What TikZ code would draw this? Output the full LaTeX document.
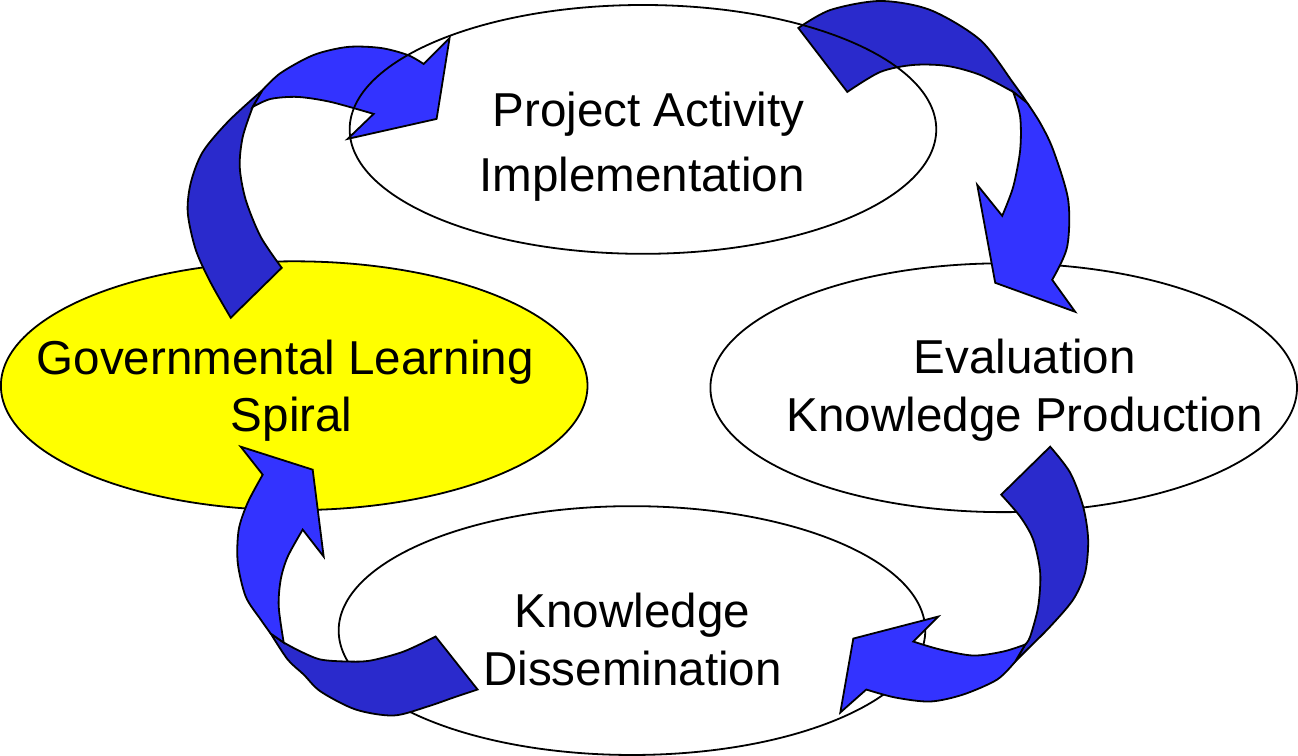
\documentclass[tikz,border=0pt]{standalone}
\usepackage{fontspec}
\setmainfont{Liberation Sans}
\usetikzlibrary{shapes.geometric}
\definecolor{frontblue}{RGB}{51,51,255}
\definecolor{backblue}{RGB}{42,42,204}
\definecolor{spiralyellow}{RGB}{255,255,0}

\begin{document}
\begin{tikzpicture}[x=1pt,y=-1pt,
  stage/.style={ellipse,draw,line width=1.8pt,minimum width=587pt,minimum height=249pt,inner sep=0pt},
  caption/.style={align=center,font=\fontsize{47.6}{57.5}\selectfont},
  backside/.style={draw,fill=backblue,line width=1.8pt},
  frontside/.style={draw,fill=frontblue,line width=1.8pt}]
  \fill[white](0,0)rectangle(1298,756);
  \node[stage,fill=spiralyellow](spiral)at(293.5,386){};
  \node[stage,fill=white](eval)at(1003.5,388){};
  \node[stage,fill=white](diss)at(631.5,631){};
  % spiral -> implementation
  \draw[backside] plot[smooth] coordinates{(230,318)(210,283)(195,250)(187,213)(190,183)(202,152)(228,121)(262,90)}
    -- plot[smooth] coordinates{(252,107)(242,137)(239,167)(245,200)(260,237)(281,268)} -- cycle;
  \draw[frontside] plot[smooth] coordinates{(262,90)(280,73)(313,55)(347,47)(380,48)(407,55)(423,64)}
    -- (449,38) -- (436,119) -- (347,139)
    -- plot[smooth] coordinates{(373,114)(330,102)(297,97)(270,99)(252,107)} -- cycle;
  % implementation -> evaluation
  \draw[backside] plot[smooth] coordinates{(798,28)(830,10)(880,1)(930,10)(980,40)(1013,83)(1027,103)}
    -- plot[smooth] coordinates{(1013,92)(980,75)(947,66)(913,65)(880,72)(847,92)} -- cycle;
  \draw[frontside] plot[smooth] coordinates{(1027,103)(1040,123)(1053,150)(1068,200)(1067,247)(1052,280)}
    -- (1075,312) -- (995,283) -- (977,185)
    -- plot[smooth] coordinates{(1002,216)(1013,187)(1020,150)(1020,117)(1013,92)} -- cycle;
  % evaluation -> dissemination
  \draw[backside] plot[smooth] coordinates{(1050,447)(1070,473)(1083,507)(1088,540)(1085,573)(1073,600)(1050,627)(1027,650)(1015,662)}
    -- plot[smooth] coordinates{(1025,645)(1030,637)(1038,607)(1040,573)(1033,540)(1020,517)(1001,495)} -- cycle;
  \draw[frontside] plot[smooth] coordinates{(1015,662)(997,680)(963,695)(930,702)(895,698)(866,690)}
    -- (840,713) -- (853,639) -- (938,617)
    -- plot[smooth] coordinates{(913,642)(940,650)(973,656)(1003,652)(1025,645)} -- cycle;
  % dissemination -> spiral
  \draw[backside] plot[smooth] coordinates{(477,690)(453,698)(427,707)(393,716)(355,710)(320,692)(303,675)(287,660)(270,634)}
    -- plot[smooth] coordinates{(283,643)(300,652)(320,660)(347,662)(370,661)(403,652)(435,637)} -- cycle;
  \draw[frontside] plot[smooth] coordinates{(270,634)(260,620)(245,597)(237,563)(238,530)(247,503)(262,475)}
    -- (240,447) -- (312,470) -- (323,557)
    -- plot[smooth] coordinates{(302,530)(287,557)(280,580)(278,607)(283,643)} -- cycle;
  \node[stage](impl)at(642.5,129.5){};
  \node[caption](impl-txt)at(641.5,147.2){\hspace*{13pt}Project Activity\\[7.5pt]Implementation};
  \node[caption](spiral-txt)at(291,390.9){Governmental Learning\hspace*{13pt}\\Spiral};
  \node[caption](eval-txt)at(1024.5,390.7){Evaluation\\Knowledge Production};
  \node[caption](diss-txt)at(632,640){Knowledge\\Dissemination};
\end{tikzpicture}
\end{document}
